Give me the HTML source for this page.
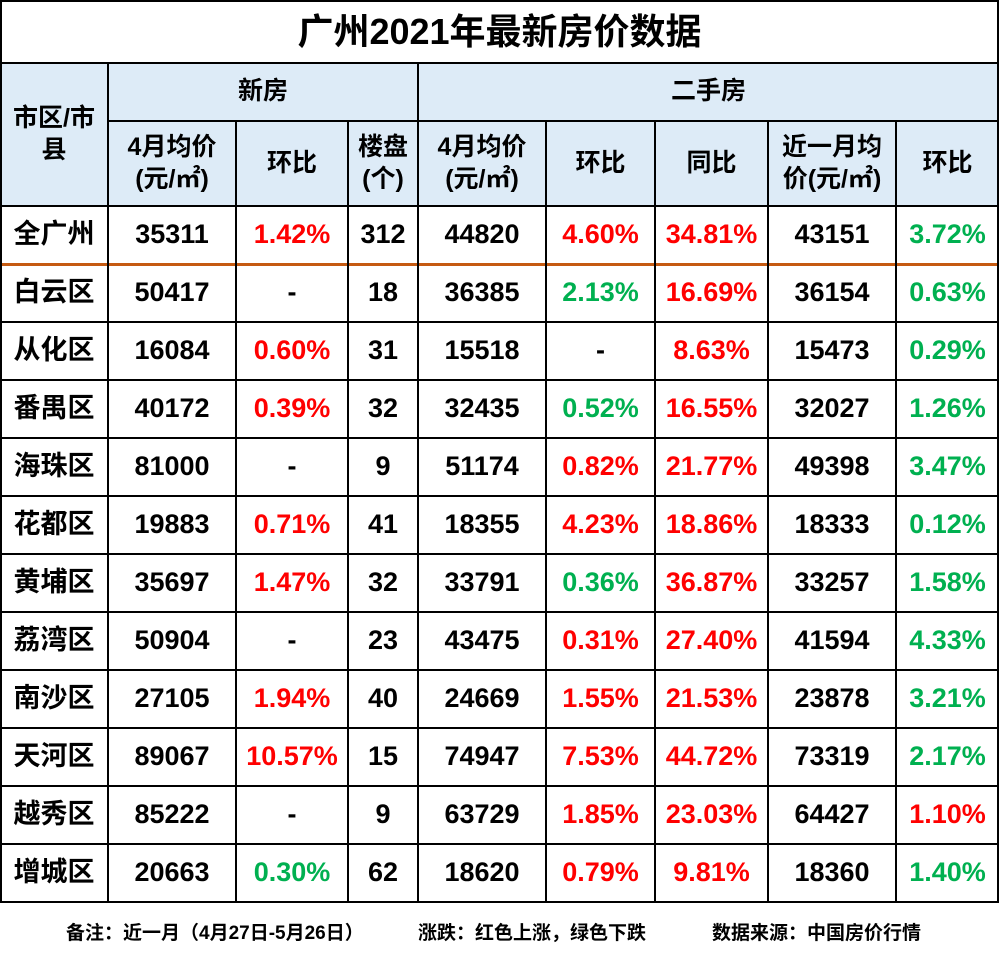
<!DOCTYPE html>
<html><head><meta charset="utf-8"><style>
body{margin:0;width:999px;height:961px;background:#fff;position:relative;overflow:hidden;font-family:"Liberation Sans","Noto Sans CJK SC",sans-serif;font-weight:bold;color:#000}
.c{position:absolute;display:flex;align-items:center;justify-content:center;text-align:center;box-sizing:border-box;line-height:1.25}
.h{background:#ddebf7;font-size:25px}
.d{font-size:27px}
.r{color:#ff0000}.g{color:#00b050}
.ln{position:absolute;background:#000}
.f{position:absolute;top:918px;font-size:19px;white-space:nowrap}
</style></head><body>
<div class="c" style="left:0;top:0;width:999px;height:63px;font-size:36px">广州2021年最新房价数据</div>
<div class="f" style="left:66px">备注：近一月（4月27日-5月26日）</div>
<div class="f" style="left:418px">涨跌：红色上涨，绿色下跌</div>
<div class="f" style="left:712px">数据来源：中国房价行情</div>
<script>
const cols=[0,108,236,348,418,546,655,768,896,999];
const regions=["全广州","白云区","从化区","番禺区","海珠区","花都区","黄埔区","荔湾区","南沙区","天河区","越秀区","增城区"];
const newPrice=["35311","50417","16084","40172","81000","19883","35697","50904","27105","89067","85222","20663"];
const newMom=["1.42%","-","0.60%","0.39%","-","0.71%","1.47%","-","1.94%","10.57%","-","0.30%"];
const newMomC=["r","","r","r","","r","r","","r","r","","g"];
const projects=["312","18","31","32","9","41","32","23","40","15","9","62"];
const usedPrice=["44820","36385","15518","32435","51174","18355","33791","43475","24669","74947","63729","18620"];
const usedMom=["4.60%","2.13%","-","0.52%","0.82%","4.23%","0.36%","0.31%","1.55%","7.53%","1.85%","0.79%"];
const usedMomC=["r","g","","g","r","r","g","r","r","r","r","r"];
const usedYoy=["34.81%","16.69%","8.63%","16.55%","21.77%","18.86%","36.87%","27.40%","21.53%","44.72%","23.03%","9.81%"];
const recent=["43151","36154","15473","32027","49398","18333","33257","41594","23878","73319","64427","18360"];
const recentMom=["3.72%","0.63%","0.29%","1.26%","3.47%","0.12%","1.58%","4.33%","3.21%","2.17%","1.10%","1.40%"];
const recentMomC=["g","g","g","g","g","g","g","g","g","g","r","g"];
const B=document.body;
function cell(x,y,w,h,txt,cls,name){const e=document.createElement('div');e.className='c '+cls;e.style.cssText=`left:${x}px;top:${y}px;width:${w}px;height:${h}px`;e.innerHTML=txt;


B.appendChild(e);}
function line(x,y,w,h,col){const e=document.createElement('div');e.className='ln';e.style.cssText=`left:${x}px;top:${y}px;width:${w}px;height:${h}px`+(col?`;background:${col}`:'');


B.appendChild(e);}
const y0=63,y1=121,y2=206,rh=(902-206)/12;
cell(0,y0,108,y2-y0,'市区/市<br>县','h','header-region');
cell(108,y0,310,y1-y0,'新房','h','header-new');
cell(418,y0,581,y1-y0,'二手房','h','header-used');
const sub=['4月均价<br>(元/㎡)','环比','楼盘<br>(个)','4月均价<br>(元/㎡)','环比','同比','近一月均<br>价(元/㎡)','环比'];
for(let i=0;i<8;i++)cell(cols[i+1],y1,cols[i+2]-cols[i+1],y2-y1,sub[i],'h','header-col');
for(let r=0;r<12;r++){const y=y2+r*rh;
 const vals=[[regions[r],''],[newPrice[r],''],[newMom[r],newMomC[r]],[projects[r],''],[usedPrice[r],''],[usedMom[r],usedMomC[r]],[usedYoy[r],'r'],[recent[r],''],[recentMom[r],recentMomC[r]]];
 vals.forEach((v,i)=>cell(cols[i],y,cols[i+1]-cols[i],rh,v[0],'d '+v[1],'cell'));
}
line(0,0,999,2);line(0,y0-1,999,2);line(108,y1-1,891,2);line(0,y2-1,999,2);
for(let r=1;r<=12;r++){const y=Math.round(y2+r*rh)-1;line(0,y,999,r==1?3:2,r==1?'#c55a11':null);}
line(0,0,2,902);line(997,0,2,902);
cols.slice(1,-1).forEach((x,i)=>{const top=(i==0||i==3)?y0:y1;line(x-1,top,2,902-top);});
</script>
</body></html>
